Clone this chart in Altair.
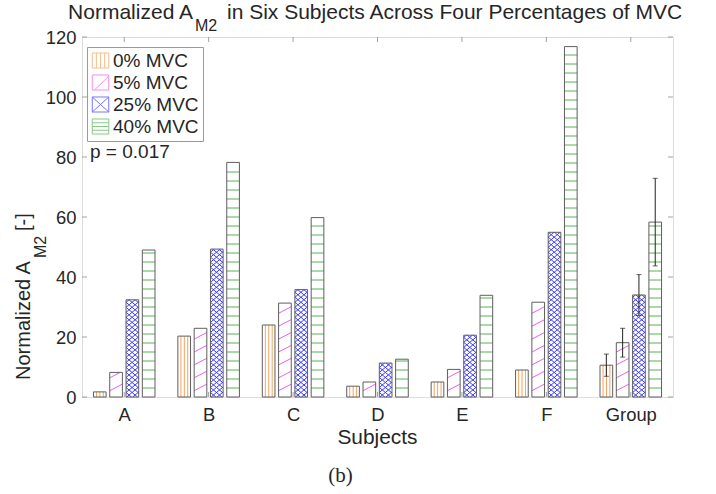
import altair as alt
import pandas as pd
import numpy as np

# ---------------- data ----------------
subjects = ["A", "B", "C", "D", "E", "F", "Group"]
levels = ["0% MVC", "5% MVC", "25% MVC", "40% MVC"]
v0 = [1.7, 20.3, 24.0, 3.6, 5.0, 9.0, 10.6]
v5 = [8.2, 22.9, 31.3, 5.0, 9.2, 31.6, 18.1]
v25 = [32.4, 49.3, 35.8, 11.3, 20.6, 54.9, 34.0]
v40 = [49.0, 78.2, 59.8, 12.6, 33.9, 116.8, 58.3]
group_err = [3.7, 4.8, 6.8, 14.6]
y_ticks = [0, 20, 40, 60, 80, 100, 120]
p_text = "p = 0.017"

colors = ["#f4a35e", "#f25cf2", "#3c3cff", "#55b355"]
FONT = "Liberation Sans"
TXT = "#262626"
BOX = "#7a7a7a"
W, H = 591, 360
TICK_FS = 18.4

# geometry of grouped bars (in x-data units: one unit per subject)
BW = 0.150
STEP = 0.193
offs = [(j - 1.5) * STEP for j in range(4)]

series = [v0, v5, v25, v40]
rows = []
for j, (lvl, vals) in enumerate(zip(levels, series)):
    for i, (s, v) in enumerate(zip(subjects, vals)):
        xc = i + offs[j]
        rows.append(dict(subject=s, level=lvl, value=v, zero=0.0,
                         xc=xc, x0=xc - BW / 2, x1=xc + BW / 2))
bars = pd.DataFrame(rows)


def diag(x0, x1, v, R, P):
    segs = []
    ys = -abs(R) - P
    while ys < v + abs(R) + P:
        lo, hi = 0.0, 1.0
        if R > 0:
            lo = max(lo, (0 - ys) / R)
            hi = min(hi, (v - ys) / R)
        else:
            lo = max(lo, (v - ys) / R)
            hi = min(hi, (0 - ys) / R)
        if hi - lo > 1e-6:
            segs.append((x0 + (x1 - x0) * lo, ys + R * lo,
                         x0 + (x1 - x0) * hi, ys + R * hi))
        ys += P
    return segs


hatch = {lvl: [] for lvl in levels}
for r in rows:
    x0, x1, v, lvl = r["x0"], r["x1"], r["value"], r["level"]
    if lvl == levels[0]:
        for f in (0.24, 0.51, 0.78):
            xx = x0 + f * BW
            hatch[lvl].append((xx, 0.0, xx, v))
    elif lvl == levels[1]:
        hatch[lvl] += diag(x0, x1, v, 2.2, 4.3)
    elif lvl == levels[2]:
        hatch[lvl] += diag(x0, x1, v, 3.5, 1.67)
        hatch[lvl] += diag(x0, x1, v, -3.5, 1.67)
    else:
        yy = 3.0
        while yy < v - 0.2:
            hatch[lvl].append((x0, yy, x1, yy))
            yy += 3.0

X_AX = alt.Axis(values=list(range(len(subjects))),
                labelExpr="%s[datum.value]" % str(subjects),
                title=None, grid=False, ticks=False, domain=False,
                labelFontSize=TICK_FS, labelFont=FONT, labelColor=TXT,
                labelPadding=8, labelBaseline="top")
Y_AX = alt.Axis(values=y_ticks, title=None, grid=False, ticks=False, tickSize=0,
                domain=False, labelFontSize=TICK_FS, labelFont=FONT,
                labelColor=TXT, labelPadding=6)
XS = alt.Scale(domain=[-0.5, len(subjects) - 0.5], nice=False, zero=False)
YS = alt.Scale(domain=[0, 120], nice=False)

base = alt.Chart(bars)

bar_fill = base.mark_rect(fill="white").encode(
    x=alt.X("x0:Q", scale=XS, axis=X_AX),
    x2="x1:Q",
    y=alt.Y("value:Q", scale=YS, axis=Y_AX),
    y2="zero:Q",
)

layers = [bar_fill]
for lvl, col in zip(levels, colors):
    df = pd.DataFrame(hatch[lvl], columns=["xa", "ya", "xb", "yb"])
    layers.append(
        alt.Chart(df).mark_rule(color=col, strokeWidth=1).encode(
            x=alt.X("xa:Q", scale=XS, axis=X_AX),
            x2="xb:Q",
            y=alt.Y("ya:Q", scale=YS, axis=Y_AX),
            y2="yb:Q",
        )
    )

bar_outline = base.mark_rect(fillOpacity=0, stroke="#5e5e5e", strokeWidth=1).encode(
    x=alt.X("x0:Q", scale=XS, axis=X_AX),
    x2="x1:Q",
    y=alt.Y("value:Q", scale=YS, axis=Y_AX),
    y2="zero:Q",
)
layers.append(bar_outline)

# error bars for the Group category
gi = len(subjects) - 1
err_df = pd.DataFrame({
    "xc": [gi + o for o in offs],
    "mean": [s[gi] for s in series],
    "err": group_err,
})
err_df["lo"] = err_df["mean"] - err_df["err"]
err_df["hi"] = err_df["mean"] + err_df["err"]
eb = alt.Chart(err_df)
layers.append(eb.mark_rule(color="#222", strokeWidth=1).encode(
    x=alt.X("xc:Q", scale=XS, axis=X_AX),
    y=alt.Y("lo:Q", scale=YS, axis=Y_AX), y2="hi:Q"))
for fld in ("lo", "hi"):
    layers.append(eb.mark_tick(color="#222", orient="horizontal", size=5, thickness=1).encode(
        x=alt.X("xc:Q", scale=XS, axis=X_AX),
        y=alt.Y(fld + ":Q", scale=YS, axis=Y_AX)))

# inward ticks on all four sides
yt = alt.Chart(pd.DataFrame({"t": y_ticks}))
for xv in (2.5, W - 2.5):
    layers.append(yt.mark_tick(color=BOX, orient="horizontal", size=5, thickness=1).encode(
        y=alt.Y("t:Q", scale=YS, axis=Y_AX), x=alt.value(xv)))
xt = alt.Chart(pd.DataFrame({"t": list(range(len(subjects)))}))
for yv in (2.5, H - 2.5):
    layers.append(xt.mark_tick(color=BOX, orient="vertical", size=5, thickness=1).encode(
        x=alt.X("t:Q", scale=XS, axis=X_AX), y=alt.value(yv)))

# legend (empty-data layer with pattern swatch symbols)
paths = [
    "M-1.1,-1H1.1V1H-1.1Z M-0.55,-1V1 M0,-1V1 M0.55,-1V1",
    "M-1.1,-1H1.1V1H-1.1Z M-0.8,1L1.1,-0.85",
    "M-1.1,-1H1.1V1H-1.1Z M-1.1,-1L1.1,1 M-1.1,1L1.1,-1",
    "M-1.1,-1H1.1V1H-1.1Z M-1.1,-0.5H1.1 M-1.1,0H1.1 M-1.1,0.5H1.1",
]
leg = alt.Chart(pd.DataFrame({"level": levels})).transform_filter("false").mark_point(
    filled=False, strokeWidth=1).encode(
    x=alt.X("zero:Q", scale=XS, axis=X_AX),
    shape=alt.Shape("level:N", scale=alt.Scale(domain=levels, range=paths),
                    legend=alt.Legend(title=None, orient="none", legendX=5, legendY=10,
                                      labelFontSize=19, labelFont=FONT, labelColor=TXT,
                                      symbolSize=225, symbolStrokeWidth=1,
                                      rowPadding=2, labelOffset=3, padding=4,
                                      strokeColor="#9a9a9a", fillColor="white",
                                      symbolFillColor="white")),
    stroke=alt.Stroke("level:N", scale=alt.Scale(domain=levels, range=colors),
                      legend=alt.Legend(title=None, orient="none", legendX=5, legendY=10)),
).transform_calculate(zero="0")
layers.append(leg)

one = alt.Data(values=[{}])


def txt(text, x, y, size=19.4, angle=0, align="left", font=FONT):
    kw = dict(text=text, fontSize=size, font=font, color=TXT, align=align,
              baseline="alphabetic")
    if angle:
        kw["angle"] = angle
    return alt.Chart(one).mark_text(**kw).encode(x=alt.value(x), y=alt.value(y))


layers += [
    txt(p_text, 8, 121, size=19),
    txt("Normalized A", 111, -18, size=21, align="right"),
    txt("M2", 113, -6.3, size=16),
    txt("in Six Subjects Across Four Percentages of MVC", 145, -18, size=21),
    txt("Normalized A", -52.5, 343, size=20, angle=270),
    txt("M2", -36.5, 221, size=16, angle=270),
    txt("[-]", -52.5, 194, size=20, angle=270),
    txt("Subjects", W / 2, 407, size=20.9, align="center"),
    txt("(b)", 258.5, 445, size=21, align="center", font="Liberation Serif"),
]

chart = alt.layer(*layers).properties(
    width=W, height=H,
    autosize=alt.AutoSizeParams(type="none"),
    padding={"left": 82, "top": 37, "right": 43, "bottom": 97},
).configure_view(stroke=BOX, strokeWidth=1).configure(background="white")

chart.save("out.html", embed_options={"renderer": "svg", "actions": False})
